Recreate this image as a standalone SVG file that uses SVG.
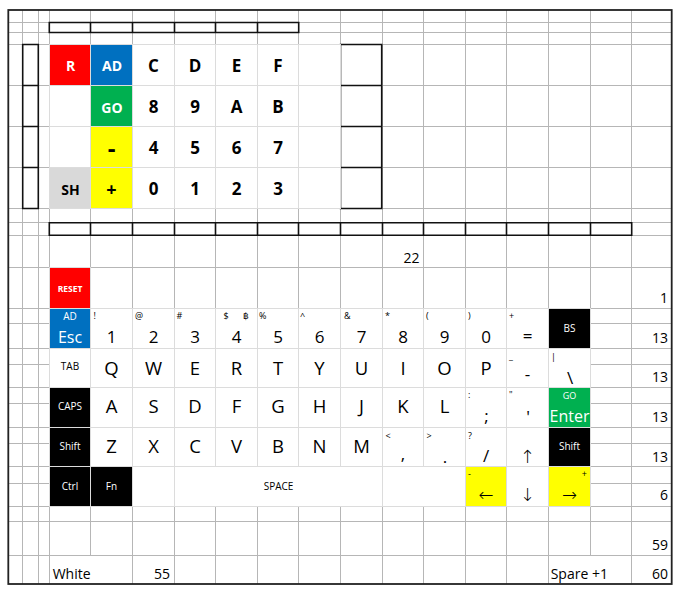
<svg xmlns="http://www.w3.org/2000/svg" width="683" height="597" viewBox="0 0 683 597">
<style>
.grid{fill:none;stroke:#b6b6b6;stroke-width:1}
.c{fill:#fff;stroke:#dcdcdc;stroke-width:1}
.red{fill:#ff0000;stroke:#dcdcdc;stroke-width:1}
.blue{fill:#0070c0;stroke:#dcdcdc;stroke-width:1}
.green{fill:#00b050;stroke:#dcdcdc;stroke-width:1}
.yellow{fill:#ffff00;stroke:#dcdcdc;stroke-width:1}
.gray{fill:#d9d9d9;stroke:#dcdcdc;stroke-width:1}
.black{fill:#000;stroke:#dcdcdc;stroke-width:1}
.box{fill:none;stroke:#111;stroke-width:1.6}
.frame{fill:none;stroke:#222;stroke-width:1.8}
text{font-family:"Open Sans","Noto Sans","DejaVu Sans",sans-serif;fill:#000}
.kp{font-size:17px;font-weight:700;text-anchor:middle}
.kpw{font-size:14px;font-weight:700;text-anchor:middle;fill:#fff}
.kpb{font-size:14px;font-weight:700;text-anchor:middle}
.big{font-size:18.5px;text-anchor:middle}
.dig{font-size:17px;text-anchor:middle}
.mid{font-size:17px;text-anchor:middle}
.arr{font-size:18px;text-anchor:middle;font-family:"DejaVu Sans",sans-serif;font-weight:300}
.sym{font-size:9px}
.lbl{font-size:10px;text-anchor:middle}
.lblw{font-size:10px;text-anchor:middle;fill:#fff}
.wt{fill:#fff}
.num{font-size:14px;text-anchor:end}
.txt{font-size:14px}
</style>
<rect x="0" y="0" width="683" height="597" fill="#fff"/>

<g id="grid">
<path class="grid" d="M22.5 10V584M38.5 10V584M49.5 10V584M90.5 10V556M132.5 10V584M174.5 10V584M215.5 10V584M257.5 10V584M298.5 10V584M340.5 10V584M382.5 10V584M423.5 10V584M465.5 10V584M506.5 10V584M548.5 10V584M590.5 10V556M631.5 10V584
M8.3 22.5H671.7M8.3 32.5H671.7M8.3 44.5H671.7M8.3 85.5H671.7M8.3 126.5H671.7M8.3 167.5H671.7M8.3 208.5H671.7M8.3 222.5H671.7M8.3 235.5H671.7M8.3 267.5H671.7M8.3 308.5H671.7M8.3 323.5H671.7M8.3 348.5H671.7M8.3 364.5H671.7M8.3 387.5H671.7M8.3 403.5H671.7M8.3 427.5H671.7M8.3 443.5H671.7M8.3 466.5H671.7M8.3 483.5H671.7M8.3 506.5H671.7M8.3 521.5H671.7M8.3 555.5H671.7"/>
</g>

<g id="boxes">
<path class="box" d="M22.7 44.5H38.3V208.5H22.7ZM22.7 85.5H38.3M22.7 126.5H38.3M22.7 167.5H38.3"/>
<path class="box" d="M340.5 44.5H381.7V208.5H340.5ZM340.5 85.5H381.7M340.5 126.5H381.7M340.5 167.5H381.7"/>
<path class="box" d="M49.3 22.5H298.7V32.5H49.3ZM90.5 22.5V32.5M132.5 22.5V32.5M174.5 22.5V32.5M215.5 22.5V32.5M257.5 22.5V32.5"/>
<path class="box" d="M49.3 222.7H631.7V235.3H49.3ZM90.5 222.7V235.3M132.5 222.7V235.3M174.5 222.7V235.3M215.5 222.7V235.3M257.5 222.7V235.3M298.5 222.7V235.3M340.5 222.7V235.3M382.5 222.7V235.3M423.5 222.7V235.3M465.5 222.7V235.3M506.5 222.7V235.3M548.5 222.7V235.3M590.5 222.7V235.3"/>
</g>

<g id="keypad">
<rect class="c" x="49.5" y="44.5" width="291" height="164"/>
<path fill="none" stroke="#dcdcdc" d="M49.5 85.5H340.5M49.5 126.5H340.5M49.5 167.5H340.5M90.5 44.5V208.5M132.5 44.5V208.5M174.5 44.5V208.5M215.5 44.5V208.5M257.5 44.5V208.5M298.5 44.5V208.5"/>
<g id="kp-r"><rect class="red" x="49.5" y="44.5" width="41" height="41"/><text class="kpw" x="70.5" y="71">R</text></g>
<g id="kp-ad"><rect class="blue" x="90.5" y="44.5" width="42" height="41"/><text class="kpw" x="112" y="71">AD</text></g>
<g id="kp-c"><text class="kp" x="153.5" y="71.7">C</text></g>
<g id="kp-d"><text class="kp" x="195" y="71.7">D</text></g>
<g id="kp-e"><text class="kp" x="236.5" y="71.7">E</text></g>
<g id="kp-f"><text class="kp" x="278" y="71.7">F</text></g>
<g id="kp-go"><rect class="green" x="90.5" y="85.5" width="42" height="41"/><text class="kpw" x="112" y="113">GO</text></g>
<g id="kp-8"><text class="kp" x="153.5" y="113.3">8</text></g>
<g id="kp-9"><text class="kp" x="195" y="113.3">9</text></g>
<g id="kp-a"><text class="kp" x="236.5" y="113.3">A</text></g>
<g id="kp-b"><text class="kp" x="278" y="113.3">B</text></g>
<g id="kp-minus"><rect class="yellow" x="90.5" y="126.5" width="42" height="41"/><text class="kp" x="111.5" y="156.5" style="font-size:24px">-</text></g>
<g id="kp-4"><text class="kp" x="153.5" y="154">4</text></g>
<g id="kp-5"><text class="kp" x="195" y="154">5</text></g>
<g id="kp-6"><text class="kp" x="236.5" y="154">6</text></g>
<g id="kp-7"><text class="kp" x="278" y="154">7</text></g>
<g id="kp-sh"><rect class="gray" x="49.5" y="167.5" width="41" height="41"/><text class="kpb" x="70.5" y="195">SH</text></g>
<g id="kp-plus"><rect class="yellow" x="90.5" y="167.5" width="42" height="41"/><text class="kp" x="111.5" y="195.5" style="font-size:18px">+</text></g>
<g id="kp-0"><text class="kp" x="153.5" y="195">0</text></g>
<g id="kp-1"><text class="kp" x="195" y="195">1</text></g>
<g id="kp-2"><text class="kp" x="236.5" y="195">2</text></g>
<g id="kp-3"><text class="kp" x="278" y="195">3</text></g>
</g>

<g id="keyboard">
<rect class="c" x="49.5" y="308.5" width="541" height="198"/>
<path fill="none" stroke="#dcdcdc" d="M49.5 348.5H590.5M49.5 387.5H590.5M49.5 427.5H590.5M49.5 466.5H590.5
M90.5 308.5V506.5M132.5 308.5V506.5M174.5 308.5V506.5M215.5 308.5V466.5M257.5 308.5V466.5M298.5 308.5V466.5M340.5 308.5V466.5M382.5 308.5V506.5M423.5 308.5V466.5M465.5 308.5V506.5M506.5 308.5V506.5M548.5 308.5V506.5"/>

<g id="key-reset"><rect class="red" x="49.5" y="267.5" width="41" height="41"/><text class="lblw" x="70" y="291.5" style="font-size:8.5px;font-weight:700">RESET</text></g>

<g id="key-esc"><rect class="blue" x="49.5" y="308.5" width="41" height="40"/><text class="lblw" x="70" y="320">AD</text><text class="dig wt" x="70" y="342.7" style="font-size:16px">Esc</text></g>
<g id="key-1"><text class="sym" x="93.5" y="319">!</text><text class="dig" x="111.5" y="342.7">1</text></g>
<g id="key-2"><text class="sym" x="135" y="319">@</text><text class="dig" x="153.5" y="342.7">2</text></g>
<g id="key-3"><text class="sym" x="176.5" y="319">#</text><text class="dig" x="195" y="342.7">3</text></g>
<g id="key-4"><text class="sym" x="223.5" y="319">$<tspan x="243">฿</tspan></text><text class="dig" x="236.5" y="342.7">4</text></g>
<g id="key-5"><text class="sym" x="259" y="319">%</text><text class="dig" x="278" y="342.7">5</text></g>
<g id="key-6"><text class="sym" x="300" y="319">^</text><text class="dig" x="319.5" y="342.7">6</text></g>
<g id="key-7"><text class="sym" x="344" y="319">&amp;</text><text class="dig" x="361.5" y="342.7">7</text></g>
<g id="key-8"><text class="sym" x="385" y="319">*</text><text class="dig" x="403" y="342.7">8</text></g>
<g id="key-9"><text class="sym" x="426" y="319">(</text><text class="dig" x="444.5" y="342.7">9</text></g>
<g id="key-0"><text class="sym" x="468" y="319">)</text><text class="dig" x="486" y="342.7">0</text></g>
<g id="key-equals"><text class="sym" x="509" y="319">+</text><text class="dig" x="527.5" y="342">=</text></g>
<g id="key-bs"><rect class="black" x="548.5" y="308.5" width="42" height="40"/><text class="lblw" x="569.5" y="331.5">BS</text></g>

<g id="key-tab"><text class="lbl" x="70" y="370">TAB</text></g>
<g id="key-q"><text class="big" x="111.5" y="375">Q</text></g>
<g id="key-w"><text class="big" x="153.5" y="375">W</text></g>
<g id="key-e"><text class="big" x="195" y="375">E</text></g>
<g id="key-r"><text class="big" x="236.5" y="375">R</text></g>
<g id="key-t"><text class="big" x="278" y="375">T</text></g>
<g id="key-y"><text class="big" x="319.5" y="375">Y</text></g>
<g id="key-u"><text class="big" x="361.5" y="375">U</text></g>
<g id="key-i"><text class="big" x="403" y="375">I</text></g>
<g id="key-o"><text class="big" x="444.5" y="375">O</text></g>
<g id="key-p"><text class="big" x="486" y="375">P</text></g>
<g id="key-minus"><text class="sym" x="509" y="359">_</text><text class="mid" x="527.5" y="379.5">-</text></g>
<g id="key-backslash"><text class="sym" x="551" y="360">|</text><text class="mid" x="570" y="383.5">\</text></g>

<g id="key-caps"><rect class="black" x="49.5" y="387.5" width="41" height="40"/><text class="lblw" x="70" y="410">CAPS</text></g>
<g id="key-a"><text class="big" x="111.5" y="413.3">A</text></g>
<g id="key-s"><text class="big" x="153.5" y="413.3">S</text></g>
<g id="key-d"><text class="big" x="195" y="413.3">D</text></g>
<g id="key-f"><text class="big" x="236.5" y="413.3">F</text></g>
<g id="key-g"><text class="big" x="278" y="413.3">G</text></g>
<g id="key-h"><text class="big" x="319.5" y="413.3">H</text></g>
<g id="key-j"><text class="big" x="361.5" y="413.3">J</text></g>
<g id="key-k"><text class="big" x="403" y="413.3">K</text></g>
<g id="key-l"><text class="big" x="444.5" y="413.3">L</text></g>
<g id="key-semicolon"><text class="sym" x="468" y="397.5">:</text><text class="mid" x="486.5" y="422">;</text></g>
<g id="key-quote"><text class="sym" x="509" y="398">"</text><text class="mid" x="528" y="423">'</text></g>
<g id="key-enter"><rect class="green" x="548.5" y="387.5" width="42" height="40"/><text class="lblw" x="569.5" y="399" style="font-size:9px">GO</text><text class="dig wt" x="569.5" y="421.7" style="font-size:16px">Enter</text></g>

<g id="key-lshift"><rect class="black" x="49.5" y="427.5" width="41" height="39"/><text class="lblw" x="70" y="449.5">Shift</text></g>
<g id="key-z"><text class="big" x="111.5" y="452.7">Z</text></g>
<g id="key-x"><text class="big" x="153.5" y="452.7">X</text></g>
<g id="key-c"><text class="big" x="195" y="452.7">C</text></g>
<g id="key-v"><text class="big" x="236.5" y="452.7">V</text></g>
<g id="key-b"><text class="big" x="278" y="452.7">B</text></g>
<g id="key-n"><text class="big" x="319.5" y="452.7">N</text></g>
<g id="key-m"><text class="big" x="361.5" y="452.7">M</text></g>
<g id="key-comma"><text class="sym" x="385.5" y="439">&lt;</text><text class="mid" x="403" y="459.5">,</text></g>
<g id="key-period"><text class="sym" x="426.5" y="439">&gt;</text><text class="mid" x="445" y="463">.</text></g>
<g id="key-slash"><text class="sym" x="468" y="439">?</text><text class="mid" x="486" y="462">/</text></g>
<g id="key-up"><text class="arr" x="527.5" y="463">↑</text></g>
<g id="key-rshift"><rect class="black" x="548.5" y="427.5" width="42" height="39"/><text class="lblw" x="569.5" y="449.5">Shift</text></g>

<g id="key-ctrl"><rect class="black" x="49.5" y="466.5" width="41" height="40"/><text class="lblw" x="70" y="489.5">Ctrl</text></g>
<g id="key-fn"><rect class="black" x="90.5" y="466.5" width="42" height="40"/><text class="lblw" x="111.5" y="489.5">Fn</text></g>
<g id="key-space"><text class="lbl" x="278.5" y="489.5">SPACE</text></g>
<g id="key-left"><rect class="yellow" x="465.5" y="466.5" width="41" height="40"/><text class="sym" x="468" y="477">-</text><text class="arr" x="486" y="501">←</text></g>
<g id="key-down"><text class="arr" x="527.5" y="501">↓</text></g>
<g id="key-right"><rect class="yellow" x="548.5" y="466.5" width="42" height="40"/><text class="sym" x="587" y="477" style="text-anchor:end">+</text><text class="arr" x="569.5" y="501">→</text></g>
</g>

<g id="labels">
<text class="num" x="419.5" y="263">22</text>
<text class="num" x="668" y="302.7">1</text>
<text class="num" x="668" y="342.7">13</text>
<text class="num" x="668" y="381.7">13</text>
<text class="num" x="668" y="421.7">13</text>
<text class="num" x="668" y="461.7">13</text>
<text class="num" x="668" y="500">6</text>
<text class="num" x="668" y="550">59</text>
<text class="num" x="668" y="579.3">60</text>
<text class="txt" x="52.7" y="579.3">White</text>
<text class="num" x="170" y="579.3">55</text>
<text class="txt" x="550.7" y="579.3">Spare +1</text>
</g>

<rect class="frame" x="8.3" y="10" width="663.4" height="574"/>
</svg>
